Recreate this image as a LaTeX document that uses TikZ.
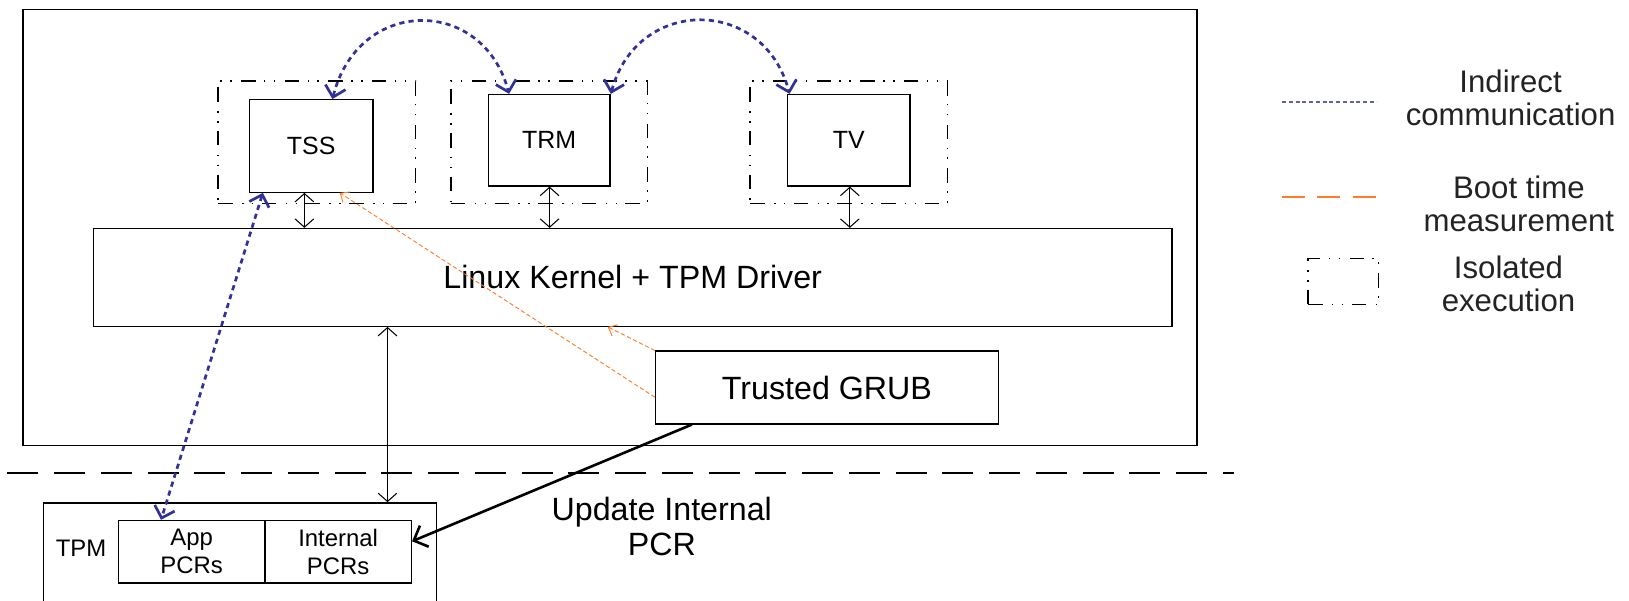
\documentclass[tikz,border=0pt]{standalone}
\usepackage{fontspec}
\setmainfont{Liberation Sans}
\usetikzlibrary{arrows.meta}
\definecolor{bluecom}{RGB}{50,50,150}
\definecolor{bluelight}{RGB}{95,95,175}
\definecolor{orangeboot}{RGB}{255,125,40}
\definecolor{legtext}{RGB}{35,35,35}
\tikzset{
  box/.style={draw, line width=1.3pt, inner sep=0pt, rectangle, align=center},
  isobox/.style={draw, line width=1.3pt, inner sep=0pt, rectangle,
    dash pattern=on 14pt off 9pt on 1.5pt off 8pt on 1.5pt off 8pt},
  biarrow/.style={line width=1pt,
    {Straight Barb[length=8pt,width=18pt]}-{Straight Barb[length=8pt,width=18pt]}},
  comline/.style={bluecom, line width=2.6pt, dash pattern=on 5pt off 4pt,
    {Straight Barb[length=10pt,width=20pt]}-{Straight Barb[length=10pt,width=20pt]}},
  bootline/.style={orangeboot, line width=0.9pt, dash pattern=on 4pt off 2.5pt,
    -{Straight Barb[length=7pt,width=12pt]}},
  updline/.style={line width=2.5pt, -{Straight Barb[length=11pt,width=22pt]}},
  sepline/.style={line width=1.6pt, dash pattern=on 30pt off 15pt},
  bigtxt/.style={font=\fontsize{31pt}{34pt}\selectfont},
  midtxt/.style={font=\fontsize{24pt}{27pt}\selectfont},
  smalltxt/.style={font=\fontsize{23pt}{27pt}\selectfont},
  legtxt/.style={font=\fontsize{30pt}{32pt}\selectfont, text=legtext, align=center, inner sep=0pt},
}
\begin{document}
\begin{tikzpicture}[x=1pt,y=-1pt]
\useasboundingbox (0,0) rectangle (1568,578);

% outer platform box
\node[box, minimum width=1130pt, minimum height=420pt] (outer) at (587,219) {};

% isolated execution compartments
\node[isobox, minimum width=190pt, minimum height=118pt] (tssiso) at (305,137) {};
\node[isobox, minimum width=189pt, minimum height=118pt] (trmiso) at (528.5,137) {};
\node[isobox, minimum width=190pt, minimum height=118pt] (tviso) at (817,137) {};

\node[box, midtxt, minimum width=119pt, minimum height=89pt] (tss) at (299.5,140.5) {TSS};
\node[box, midtxt, minimum width=117pt, minimum height=88pt] (trm) at (528.5,135) {TRM};
\node[box, midtxt, minimum width=118pt, minimum height=88pt] (tv) at (817,135) {TV};

% kernel and grub
\node[box, bigtxt, minimum width=1038pt, minimum height=94pt] (kernel) at (609,267) {Linux Kernel + TPM Driver};
\node[box, bigtxt, minimum width=330pt, minimum height=70pt] (grub) at (796,373) {Trusted GRUB};

% TPM
\node[box, minimum width=378pt, minimum height=106pt] (tpm) at (231,537) {};
\node[smalltxt, inner sep=0pt] (tpmlabel) at (78,528) {TPM};
\node[box, smalltxt, minimum width=141pt, minimum height=60pt] (app) at (184.5,531) {App\\PCRs};
\node[box, smalltxt, minimum width=141pt, minimum height=60pt] (int) at (325.5,531) {Internal\\PCRs};

\node[bigtxt, align=center, inner sep=0pt] (updlabel) at (637,507) {Update Internal\\PCR};

% separator
\coordinate (sepL) at (7,455);
\coordinate (sepR) at (1188,455);
\draw[sepline] (sepL) -- (sepR);

% black bidirectional arrows
\draw[biarrow] (tss.south -| 293,0) -- (kernel.north -| 293,0);
\draw[biarrow] (trm.south -| 529,0) -- (kernel.north -| 529,0);
\draw[biarrow] (tv.south -| 818,0) -- (kernel.north -| 818,0);
\draw[biarrow] (kernel.south -| 373,0) -- (tpm.north -| 373,0);

% update internal PCR
\draw[updline] (grub.south -| 666,0) -- ([yshift=10pt]int.east);

% boot time measurement
\draw[bootline] (grub.north west) -- (kernel.south -| 585,0);
\draw[bootline] ([yshift=-45pt]grub.north west) -- (tss.south -| 327,0);

% indirect communication
\draw[comline] (tss.north -| 320,0) .. controls +(25,-99) and +(-25,-94) .. (trm.north -| 490,0);
\draw[comline] (trm.north -| 588,0) .. controls +(25,-94) and +(-25,-94) .. (tv.north -| 760,0);
\draw[comline] (tss.south -| 253,0) -- (app.north -| 155,0);

% legend
\coordinate (lg1a) at (1234,98);
\coordinate (lg1b) at (1325,98);
\draw[bluelight, line width=2pt, dash pattern=on 4pt off 2.5pt] (lg1a) -- (lg1b);
\coordinate (lg2a) at (1234,189.5);
\coordinate (lg2b) at (1328,189.5);
\draw[orangeboot, line width=2.5pt, dash pattern=on 22pt off 12pt] (lg2a) -- (lg2b);
\node[isobox, minimum width=68pt, minimum height=44pt, line width=1.2pt] (lgiso) at (1293,271) {};

\node[legtxt] (lt1) at (1454,94) {Indirect\\communication};
\node[legtxt] (lt2) at (1462,196) {Boot time\\measurement};
\node[legtxt] (lt3) at (1452,273) {Isolated\\execution};
\end{tikzpicture}
\end{document}
